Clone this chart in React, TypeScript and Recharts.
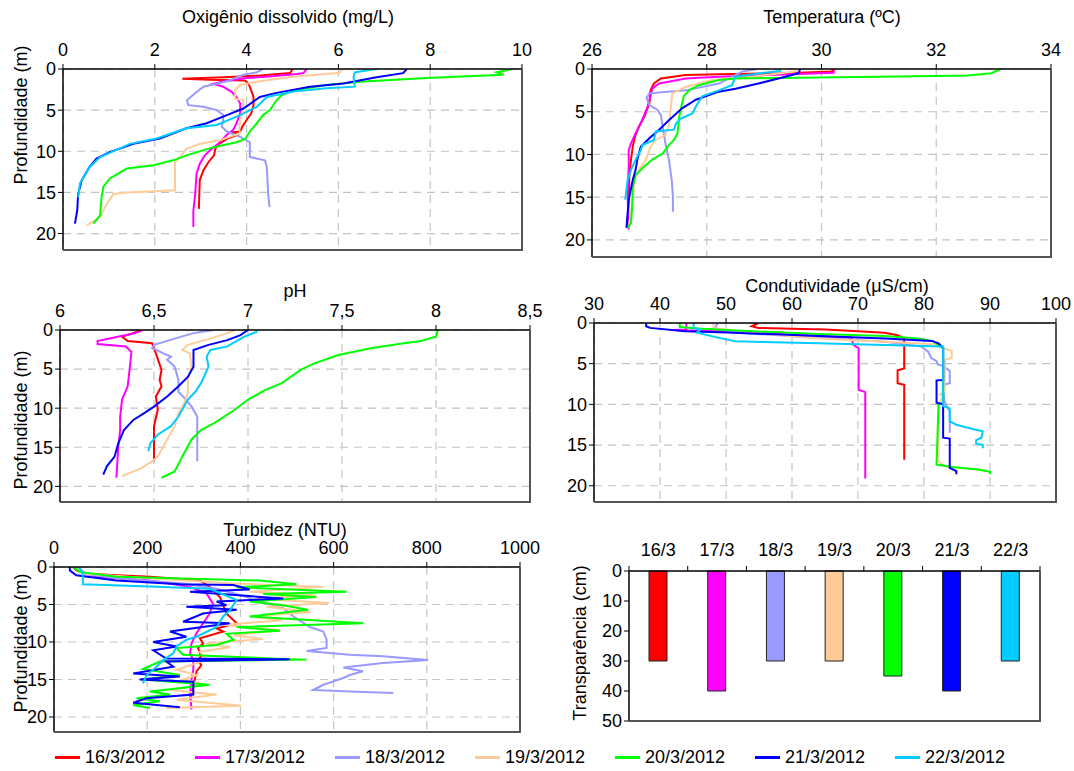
import { LineChart, Line, BarChart, Bar, Cell, XAxis, YAxis, CartesianGrid } from 'recharts';

const FONT = '"Liberation Sans", Arial, sans-serif';
const DATES = ['16/3/2012', '17/3/2012', '18/3/2012', '19/3/2012', '20/3/2012', '21/3/2012', '22/3/2012'];
const SHORT_DATES = ['16/3', '17/3', '18/3', '19/3', '20/3', '21/3', '22/3'];
const COLORS = ['#ff0000', '#ff00ff', '#9999ff', '#ffcc99', '#00ff00', '#0000ff', '#00ccff'];

// [profundidade (m), valor]
const od16 = [[0, 5.0], [0.5, 4.95], [0.8, 4.3], [1.0, 3.5], [1.2, 2.6], [1.3, 3.2], [1.4, 3.96], [1.75, 4.04], [2.6, 4.1], [3.4, 4.15], [4.4, 4.15], [5.4, 4.1], [6.2, 4.0], [7.0, 3.91], [7.6, 3.86], [7.7, 3.7], [8.0, 3.8], [8.5, 3.57], [9.3, 3.35], [9.9, 3.31], [10.5, 3.29], [11.3, 3.17], [12.3, 3.06], [13.5, 2.98], [15.2, 2.97], [17.0, 2.96]];
const od17 = [[0, 5.31], [0.5, 5.24], [0.6, 5.1], [0.9, 4.5], [1.1, 4.0], [1.5, 3.5], [1.8, 3.28], [2.15, 3.49], [2.8, 3.68], [3.4, 3.78], [4.2, 3.86], [5.4, 3.86], [6.6, 3.78], [7.4, 3.71], [8.0, 3.57], [9.1, 3.38], [9.7, 3.24], [10.5, 3.09], [11.5, 2.98], [12.7, 2.91], [15.2, 2.88], [17.2, 2.84], [19.2, 2.84]];
const od18 = [[0, 4.36], [0.4, 4.22], [0.7, 3.93], [1.5, 3.57], [2.15, 3.06], [2.8, 2.91], [3.8, 2.7], [4.4, 2.73], [4.6, 3.06], [5.0, 3.35], [5.6, 3.49], [6.2, 3.49], [7.0, 3.46], [7.6, 3.57], [8.25, 3.86], [8.9, 4.07], [10.7, 4.07], [11.1, 4.4], [11.9, 4.44], [15.2, 4.47], [16.8, 4.5]];
const od19 = [[0, 6.09], [0.45, 6.03], [0.95, 5.02], [1.5, 4.29], [1.95, 3.86], [2.6, 3.75], [3.6, 3.75], [3.8, 3.93], [4.6, 3.93], [6.2, 3.86], [7.4, 3.84], [7.8, 3.86], [8.65, 3.42], [9.1, 2.98], [9.7, 2.69], [10.7, 2.55], [11.3, 2.44], [14.75, 2.44], [15.0, 1.39], [15.2, 1.1], [16.4, 0.95], [18.0, 0.81], [19.0, 0.52]];
const od20 = [[0, 9.8], [0.4, 9.45], [0.7, 9.6], [1.1, 7.92], [1.55, 6.47], [1.95, 5.74], [2.6, 5.02], [3.2, 4.76], [3.8, 4.65], [5.0, 4.51], [5.6, 4.36], [6.6, 4.22], [7.6, 4.07], [8.5, 3.97], [8.9, 3.78], [9.5, 3.28], [10.5, 2.69], [11.1, 2.4], [11.7, 1.97], [12.1, 1.39], [13.3, 1.02], [14.3, 0.88], [15.6, 0.84], [17.8, 0.81], [18.8, 0.66]];
const od21 = [[0, 7.49], [0.5, 7.41], [1.0, 6.83], [1.75, 6.11], [2.15, 5.38], [2.9, 4.65], [3.4, 4.29], [4.8, 3.93], [5.6, 3.57], [6.6, 3.13], [7.2, 2.69], [8.45, 2.11], [9.1, 1.53], [10.1, 1.02], [10.9, 0.73], [11.9, 0.58], [13.5, 0.41], [15.2, 0.33], [17.2, 0.31], [18.8, 0.26]];
const od22 = [[0, 6.83], [0.4, 6.36], [0.95, 6.33], [2.15, 6.36], [2.35, 5.74], [2.75, 5.02], [3.4, 4.44], [4.6, 4.22], [5.6, 3.86], [6.8, 3.35], [7.2, 2.69], [8.45, 2.04], [9.1, 1.46], [10.7, 0.81], [11.9, 0.58], [13.9, 0.37], [15.6, 0.33]];

const t16 = [[0, 30.21], [0.3, 30.18], [0.5, 29.37], [0.6, 28.21], [0.7, 27.63], [1.1, 27.2], [1.7, 27.08], [2.5, 27.02], [4.0, 27.0], [5.6, 26.91], [6.7, 26.82], [7.9, 26.75], [9.1, 26.71], [10.6, 26.68], [12.6, 26.65], [15.3, 26.64], [18.4, 26.62]];
const t17 = [[0, 30.22], [0.45, 30.21], [0.7, 29.08], [0.9, 28.21], [1.1, 27.63], [1.7, 27.17], [2.3, 27.05], [3.2, 27.02], [4.4, 26.97], [6.4, 26.85], [7.5, 26.76], [8.7, 26.68], [9.5, 26.64], [11.4, 26.64], [14.5, 26.62], [18.8, 26.64]];
const t18 = [[0, 28.89], [0.3, 28.62], [1.7, 28.21], [2.5, 27.63], [2.85, 27.0], [3.4, 26.95], [4.2, 27.0], [4.8, 27.14], [5.4, 27.2], [6.7, 27.23], [8.7, 27.28], [10.6, 27.34], [13.0, 27.39], [14.9, 27.41], [16.7, 27.41]];
const t19 = [[0, 29.6], [0.3, 29.54], [0.9, 28.79], [1.3, 28.09], [2.1, 27.63], [2.85, 27.4], [4.8, 27.37], [6.7, 27.34], [7.7, 27.28], [8.3, 27.11], [9.1, 27.02], [10.6, 26.94], [11.8, 26.82], [13.0, 26.74], [15.3, 26.71], [18.6, 26.64]];
const t20 = [[0, 33.12], [0.5, 32.96], [0.75, 32.55], [0.9, 31.0], [1.0, 29.95], [1.1, 28.5], [1.3, 28.21], [1.9, 27.86], [2.5, 27.69], [3.2, 27.6], [4.0, 27.57], [5.6, 27.52], [7.5, 27.49], [8.3, 27.43], [8.9, 27.34], [9.9, 27.23], [10.6, 27.05], [11.4, 26.91], [12.4, 26.76], [13.8, 26.71], [16.1, 26.7], [18.0, 26.68], [18.6, 26.62]];
const t21 = [[0, 29.63], [0.5, 29.6], [0.9, 29.37], [1.7, 28.9], [2.3, 28.5], [2.65, 28.21], [3.6, 27.81], [4.6, 27.57], [6.0, 27.34], [7.1, 27.17], [8.1, 27.0], [9.1, 26.85], [10.6, 26.79], [11.8, 26.76], [13.0, 26.71], [15.3, 26.64], [18.6, 26.6]];
const t22 = [[0.2, 29.3], [0.4, 29.05], [0.9, 28.5], [1.9, 28.44], [2.5, 28.21], [3.2, 27.92], [4.4, 27.81], [5.2, 27.75], [5.8, 27.55], [6.4, 27.46], [7.1, 27.43], [7.3, 27.11], [8.3, 27.08], [8.9, 26.88], [9.5, 26.85], [10.6, 26.76], [11.8, 26.68], [13.0, 26.62], [15.3, 26.58]];

const ph16 = [[0, 6.43], [0.4, 6.39], [0.85, 6.33], [1.4, 6.36], [1.7, 6.49], [3.0, 6.51], [5.1, 6.54], [6.4, 6.53], [7.2, 6.54], [8.5, 6.51], [10.2, 6.52], [12.3, 6.5], [14.9, 6.5], [16.8, 6.5]];
const ph17 = [[0, 6.44], [0.4, 6.4], [0.8, 6.32], [1.4, 6.2], [1.8, 6.2], [2.1, 6.35], [2.8, 6.38], [5.1, 6.37], [7.2, 6.36], [8.9, 6.33], [11.1, 6.32], [12.8, 6.32], [14.9, 6.31], [18.9, 6.3]];
const ph18 = [[0, 6.82], [0.4, 6.71], [1.1, 6.61], [1.9, 6.5], [2.3, 6.49], [3.0, 6.55], [3.4, 6.59], [3.8, 6.57], [4.7, 6.61], [6.4, 6.63], [7.9, 6.63], [8.9, 6.67], [9.8, 6.7], [11.1, 6.73], [13.2, 6.73], [16.8, 6.73]];
const ph19 = [[0, 6.93], [0.4, 6.89], [1.1, 6.8], [1.9, 6.68], [2.55, 6.65], [3.0, 6.69], [4.7, 6.7], [6.4, 6.68], [8.1, 6.68], [9.4, 6.66], [10.6, 6.63], [12.3, 6.61], [14.0, 6.57], [16.2, 6.52], [16.8, 6.49], [17.7, 6.43], [18.7, 6.33]];
const ph20 = [[0, 8.01], [0.85, 8.0], [1.4, 7.92], [1.7, 7.83], [2.3, 7.66], [3.2, 7.48], [4.3, 7.35], [5.1, 7.28], [6.8, 7.18], [7.7, 7.09], [8.9, 7.0], [10.2, 6.93], [11.9, 6.82], [12.8, 6.75], [14.0, 6.7], [16.2, 6.65], [18.1, 6.61], [18.9, 6.54]];
const ph21 = [[0, 7.0], [0.65, 6.96], [1.3, 6.89], [1.9, 6.79], [2.55, 6.71], [4.7, 6.71], [6.0, 6.68], [7.2, 6.63], [8.5, 6.57], [9.8, 6.5], [10.6, 6.45], [11.5, 6.39], [12.8, 6.34], [14.5, 6.31], [16.2, 6.29], [17.4, 6.25], [18.5, 6.23]];
const ph22 = [[0.2, 7.05], [0.85, 6.98], [2.1, 6.89], [2.55, 6.8], [3.4, 6.78], [4.7, 6.79], [6.8, 6.75], [7.9, 6.72], [8.9, 6.68], [11.1, 6.63], [12.3, 6.59], [13.4, 6.52], [14.5, 6.48], [15.5, 6.47]];

const c16 = [[0, 54.9], [0.4, 53.9], [0.6, 54.9], [0.7, 60], [0.8, 65], [1.0, 70], [1.2, 74], [1.5, 76], [1.9, 77], [5.6, 77], [5.8, 76], [7.4, 76], [7.6, 77], [16.8, 77]];
const c17 = [[0, 44], [0.8, 44], [0.85, 41.8], [1.0, 48.8], [1.4, 58.9], [1.8, 69], [2.7, 69.3], [3.1, 70.1], [8.2, 70.1], [8.5, 71.1], [19.1, 71.1]];
const c18 = [[0, 48.8], [0.2, 48.6], [0.6, 48.3], [1.2, 51.4], [1.8, 64], [2.3, 74.1], [2.9, 79.6], [3.5, 80.6], [4.3, 81.1], [4.7, 81.9], [5.1, 82.1], [5.3, 82.9], [5.9, 83.9], [7.4, 83.9], [7.6, 82.9], [9.6, 83.1], [10.9, 83.9], [13.5, 83.9]];
const c19 = [[0, 48.1], [0.6, 48.1], [1.2, 53.9], [1.9, 64], [2.3, 74.1], [2.6, 81.7], [3.1, 82.9], [3.4, 84.2], [4.3, 84.2], [4.5, 83.2], [8.4, 83.1], [8.8, 82.4], [9.0, 82.9], [10.0, 82.2], [17.0, 82.2], [17.6, 83.2], [18.0, 88.2], [18.2, 89.7]];
const c20 = [[0, 43], [0.5, 43], [0.7, 46.3], [1.0, 53.9], [1.35, 64], [1.6, 74.1], [1.9, 79.1], [2.25, 81.4], [2.7, 82.2], [3.1, 82.9], [9.8, 82.9], [10.0, 82.2], [17.4, 81.9], [17.7, 84.2], [18.0, 88.2], [18.3, 90], [18.6, 90]];
const c21 = [[0, 37.9], [0.4, 37.9], [0.6, 38.5], [1.0, 43.8], [1.2, 51.4], [1.6, 64], [1.9, 74.1], [2.2, 81.2], [2.5, 82.2], [2.9, 82.7], [3.1, 82.9], [7.0, 82.9], [7.05, 81.9], [9.8, 81.9], [10.0, 82.9], [14.1, 82.9], [14.2, 83.9], [17.8, 83.9], [18.2, 84.9], [18.6, 84.9]];
const c22 = [[0, 45.1], [0.6, 45.1], [0.8, 46.1], [1.2, 45.6], [1.8, 48.8], [2.25, 51.4], [2.5, 64], [2.7, 74.1], [2.9, 82.9], [10.2, 82.9], [10.5, 83.9], [12.1, 83.9], [12.5, 84.9], [13.1, 87.7], [13.3, 88.9], [14.1, 88.7], [14.4, 87.9], [14.8, 87.9], [15.0, 88.9], [15.4, 88.9]];

const tu16 = [[0, 41], [0.45, 48], [0.9, 69], [1.3, 206], [1.8, 313], [2.65, 334], [4.0, 356], [5.1, 363], [6.2, 370], [7.5, 392], [8.2, 349], [8.6, 363], [9.5, 313], [10.2, 320], [10.8, 309], [11.9, 316], [12.4, 309], [13.1, 316], [13.9, 306], [15.0, 302], [15.9, 299], [16.8, 295], [17.7, 292]];
const tu17 = [[0, 52], [0.65, 62], [1.3, 91], [1.8, 206], [2.65, 292], [3.5, 327], [4.9, 341], [6.2, 334], [7.5, 320], [8.8, 306], [10.2, 295], [11.5, 292], [12.4, 299], [13.7, 299], [15.0, 295], [16.8, 292], [19.0, 295]];
const tu18 = [[0, 44], [0.9, 62], [1.5, 134], [2.2, 277], [2.9, 349], [3.5, 385], [4.4, 435], [5.5, 492], [6.6, 514], [8.0, 549], [8.6, 578], [9.7, 585], [10.8, 585], [11.2, 542], [11.7, 635], [11.9, 706], [12.4, 803], [12.8, 706], [13.4, 621], [13.9, 663], [14.4, 635], [14.8, 621], [15.7, 578], [16.4, 556], [16.6, 635], [16.8, 728]];
const tu19 = [[0, 48], [0.9, 69], [1.5, 206], [2.2, 385], [2.65, 578], [3.3, 420], [3.8, 563], [4.2, 435], [4.8, 590], [5.3, 456], [6.0, 550], [6.6, 420], [7.1, 491], [7.7, 363], [8.4, 485], [9.1, 385], [9.6, 449], [10.2, 327], [10.7, 377], [11.3, 313], [12.4, 327], [13.7, 263], [14.4, 306], [15.0, 277], [15.7, 327], [16.4, 249], [17.0, 349], [17.7, 263], [18.5, 402], [18.8, 241]];
const tu20 = [[0, 41], [0.65, 55], [1.3, 134], [1.8, 442], [2.3, 520], [2.7, 392], [3.3, 628], [3.6, 449], [4.0, 563], [4.6, 420], [5.1, 491], [5.7, 545], [6.6, 420], [7.5, 664], [8.0, 392], [8.5, 485], [8.9, 370], [9.7, 385], [10.4, 349], [10.8, 263], [11.7, 277], [12.3, 506], [12.35, 542], [12.6, 227], [13.6, 191], [14.4, 270], [15.0, 188], [15.7, 334], [16.6, 206], [17.0, 249], [17.5, 177], [17.9, 227], [18.4, 170], [18.8, 206]];
const tu21 = [[0, 34], [0.45, 34], [1.1, 48], [1.8, 134], [2.3, 270], [2.4, 385], [3.0, 420], [3.3, 292], [4.2, 492], [4.6, 349], [5.1, 370], [5.3, 284], [5.7, 392], [6.2, 320], [7.3, 277], [7.5, 377], [8.6, 249], [9.3, 284], [10.0, 213], [10.6, 263], [11.1, 213], [12.2, 241], [12.3, 506], [12.6, 241], [13.3, 256], [14.2, 170], [14.6, 270], [15.0, 184], [15.3, 299], [17.0, 299], [17.5, 198], [18.1, 170], [18.7, 270]];
const tu22 = [[0, 52], [0.65, 62], [2.3, 62], [2.6, 206], [2.9, 334], [4.4, 392], [5.8, 377], [6.6, 363], [8.0, 349], [9.3, 306], [9.7, 284], [10.6, 263], [11.5, 256], [12.4, 234], [13.3, 220], [14.4, 199], [15.5, 191]];

const transparency = [30, 40, 30, 30, 35, 40, 30];

const toPoints = (arr: number[][]) => arr.map(([d, v]) => ({ d, v }));
const commaFmt = (v: number) => String(v).replace('.', ',');

const YW = 50;
const XH = 32;
const RM = 24;
const BM = 12;

const tickStyle = { fill: '#000', fontSize: 18, fontFamily: FONT };

type Box = { x0: number; y0: number; x1: number; y1: number };

const PlotBorder = ({ box }: { box: Box }) => (
  <div
    style={{
      position: 'absolute',
      left: box.x0,
      top: box.y0,
      width: box.x1 - box.x0 + 1,
      height: box.y1 - box.y0 + 1,
      borderRight: '2px solid #555',
      borderBottom: '2px solid #555',
      boxSizing: 'border-box',
      pointerEvents: 'none',
    }}
  />
);

const ProfilePanel = ({ box, domain, ticks, series, fmt }: { box: Box; domain: number[]; ticks: number[]; series: number[][][]; fmt?: (v: number) => string }) => {
  const w = box.x1 - box.x0;
  const h = box.y1 - box.y0;
  return (
    <>
      <div style={{ position: 'absolute', left: box.x0 - YW, top: box.y0 - XH }}>
        <LineChart layout="vertical" width={w + YW + RM} height={h + XH + BM} margin={{ top: 0, right: RM, bottom: BM, left: 0 }}>
          <CartesianGrid strokeDasharray="8 6" stroke="#c4c4c4" strokeWidth={1.2} />
          <XAxis
            type="number"
            orientation="top"
            domain={domain}
            ticks={ticks}
            interval={0}
            height={XH}
            tick={tickStyle}
            tickFormatter={fmt}
            tickSize={5}
            tickMargin={8}
            axisLine={{ stroke: '#000', strokeWidth: 1.5 }}
            tickLine={{ stroke: '#000' }}
            allowDataOverflow
          />
          <YAxis
            type="number"
            dataKey="d"
            domain={[0, 22]}
            ticks={[0, 5, 10, 15, 20]}
            interval={0}
            width={YW}
            tick={tickStyle}
            tickSize={5}
            tickMargin={2}
            axisLine={{ stroke: '#000', strokeWidth: 1.5 }}
            tickLine={{ stroke: '#000' }}
            allowDataOverflow
          />
          {series.map((s, i) => (
            <Line
              key={DATES[i]}
              data={toPoints(s)}
              dataKey="v"
              type="linear"
              stroke={COLORS[i]}
              strokeWidth={2}
              dot={false}
              isAnimationActive={false}
            />
          ))}
        </LineChart>
      </div>
      <PlotBorder box={box} />
    </>
  );
};

const P1: Box = { x0: 63, y0: 69, x1: 522, y1: 250 };
const P2: Box = { x0: 592, y0: 69, x1: 1051, y1: 257 };
const P3: Box = { x0: 60, y0: 330, x1: 530, y1: 502 };
const P4: Box = { x0: 594, y0: 323, x1: 1056, y1: 502 };
const P5: Box = { x0: 54, y0: 567, x1: 520, y1: 732 };
const P6: Box = { x0: 629, y0: 571, x1: 1040, y1: 721 };

const BAND = (P6.x1 - P6.x0) / SHORT_DATES.length;

const DividerTick = (props: any) => {
  const { x, payload, index } = props;
  return (
    <g>
      <text x={x} y={XH - 15} textAnchor="middle" fill="#000" fontSize={18} fontFamily={FONT}>
        {payload.value}
      </text>
      <line x1={x + BAND / 2} x2={x + BAND / 2} y1={XH} y2={XH - 5} stroke="#000" />
      {index === 0 && <line x1={x - BAND / 2} x2={x - BAND / 2} y1={XH} y2={XH - 5} stroke="#000" />}
    </g>
  );
};

const Title = ({ text, cx, cy }: { text: string; cx: number; cy: number }) => (
  <div
    style={{
      position: 'absolute',
      left: cx - 200,
      top: cy - 11,
      width: 400,
      textAlign: 'center',
      fontSize: 18,
      lineHeight: '22px',
      fontFamily: FONT,
      color: '#000',
      whiteSpace: 'nowrap',
    }}
  >
    {text}
  </div>
);

const VLabel = ({ text, cx, cy }: { text: string; cx: number; cy: number }) => (
  <div
    style={{
      position: 'absolute',
      left: cx - 120,
      top: cy - 11,
      width: 240,
      textAlign: 'center',
      fontSize: 18,
      lineHeight: '22px',
      fontFamily: FONT,
      color: '#000',
      whiteSpace: 'nowrap',
      transform: 'rotate(-90deg)',
    }}
  >
    {text}
  </div>
);

export default function App() {
  const transData = SHORT_DATES.map((date, i) => ({ date, cm: transparency[i] }));
  const w6 = P6.x1 - P6.x0;
  const h6 = P6.y1 - P6.y0;
  return (
    <div style={{ position: 'absolute', left: 0, top: 0, width: 1074, height: 771, background: '#fff', fontFamily: FONT }}>
      <Title text="Oxigênio dissolvido (mg/L)" cx={288} cy={17} />
      <Title text="Temperatura (ºC)" cx={832} cy={17} />
      <Title text="pH" cx={295} cy={291} />
      <Title text="Condutividade (μS/cm)" cx={837} cy={286} />
      <Title text="Turbidez (NTU)" cx={285} cy={530} />

      <VLabel text="Profundidade (m)" cx={21} cy={115} />
      <VLabel text="Profundidade (m)" cx={21} cy={420} />
      <VLabel text="Profundidade (m)" cx={21} cy={643} />
      <VLabel text="Transparência (cm)" cx={580} cy={643} />

      <ProfilePanel box={P1} domain={[0, 10]} ticks={[0, 2, 4, 6, 8, 10]} series={[od16, od17, od18, od19, od20, od21, od22]} />
      <ProfilePanel box={P2} domain={[26, 34]} ticks={[26, 28, 30, 32, 34]} series={[t16, t17, t18, t19, t20, t21, t22]} />
      <ProfilePanel box={P3} domain={[6, 8.5]} ticks={[6, 6.5, 7, 7.5, 8, 8.5]} series={[ph16, ph17, ph18, ph19, ph20, ph21, ph22]} fmt={commaFmt} />
      <ProfilePanel box={P4} domain={[30, 100]} ticks={[30, 40, 50, 60, 70, 80, 90, 100]} series={[c16, c17, c18, c19, c20, c21, c22]} />
      <ProfilePanel box={P5} domain={[0, 1000]} ticks={[0, 200, 400, 600, 800, 1000]} series={[tu16, tu17, tu18, tu19, tu20, tu21, tu22]} />

      <div style={{ position: 'absolute', left: P6.x0 - YW, top: P6.y0 - XH }}>
        <BarChart width={w6 + YW + RM} height={h6 + XH + BM} data={transData} margin={{ top: 0, right: RM, bottom: BM, left: 0 }}>
          <XAxis
            dataKey="date"
            orientation="top"
            height={XH}
            interval={0}
            tickLine={false}
            tick={<DividerTick />}
            axisLine={{ stroke: '#000', strokeWidth: 1.5 }}
          />
          <YAxis
            type="number"
            domain={[0, 50]}
            ticks={[0, 10, 20, 30, 40, 50]}
            interval={0}
            reversed
            width={YW}
            tick={tickStyle}
            tickSize={5}
            tickMargin={2}
            axisLine={{ stroke: '#000', strokeWidth: 1.5 }}
            tickLine={{ stroke: '#000' }}
          />
          <Bar dataKey="cm" barSize={18} stroke="#222" strokeWidth={1} isAnimationActive={false}>
            {transData.map((e, i) => (
              <Cell key={e.date} fill={COLORS[i]} />
            ))}
          </Bar>
        </BarChart>
      </div>
      <PlotBorder box={P6} />

      {DATES.map((d, i) => (
        <div key={d} style={{ position: 'absolute', left: 55 + 140 * i, top: 746, height: 22, display: 'flex', alignItems: 'center' }}>
          <div style={{ width: 25, height: 3, background: COLORS[i] }} />
          <span style={{ marginLeft: 5, fontSize: 18, fontFamily: FONT, color: '#000' }}>{d}</span>
        </div>
      ))}
    </div>
  );
}
